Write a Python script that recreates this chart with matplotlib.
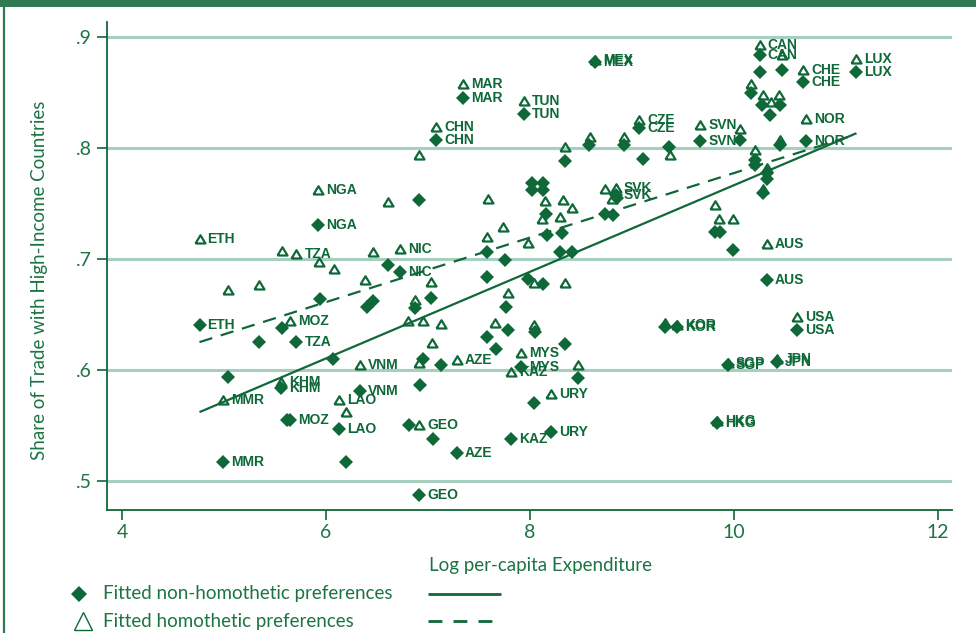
import matplotlib
matplotlib.use("Agg")
import matplotlib.pyplot as plt
from matplotlib.lines import Line2D
from matplotlib.patches import Rectangle

# ---------------- data ----------------
# labelled countries: log per-capita expenditure, fitted share (non-homothetic, homothetic)
countries = ["ETH", "MMR", "NGA", "MOZ", "TZA", "KHM", "LAO", "VNM", "GEO", "AZE",
             "KAZ", "URY", "MYS", "NIC", "CHN", "MAR", "TUN", "MEX", "CZE", "SVN",
             "SVK", "CAN", "CHE", "LUX", "NOR", "AUS", "KOR", "USA", "JPN", "SGP", "HKG"]
lab_x = [4.76, 4.99, 5.92, 5.65, 5.71, 5.56, 6.13, 6.33, 6.91, 7.28,
         7.81, 8.21, 7.91, 6.73, 7.08, 7.34, 7.94, 8.64, 9.07, 9.67,
         8.84, 10.25, 10.68, 11.20, 10.71, 10.32, 9.44, 10.62, 10.42, 9.94, 9.83]
lab_nonhom = [0.640, 0.517, 0.730, 0.555, 0.625, 0.584, 0.547, 0.581, 0.487, 0.525,
              0.538, 0.544, 0.603, 0.688, 0.807, 0.845, 0.830, 0.877, 0.818, 0.806,
              0.757, 0.883, 0.859, 0.868, 0.806, 0.681, 0.639, 0.636, 0.607, 0.604, 0.552]
lab_hom = [0.718, 0.573, 0.762, 0.644, 0.704, 0.589, 0.573, 0.604, 0.550, 0.609,
           0.598, 0.578, 0.615, 0.709, 0.819, 0.857, 0.842, 0.879, 0.825, 0.820,
           0.764, 0.892, 0.870, 0.880, 0.826, 0.713, 0.640, 0.648, 0.610, 0.606, 0.554]

# unlabelled points, non-homothetic (filled diamonds)
nonhom_x = [6.61, 5.94, 5.34, 5.57, 6.07, 5.04, 6.40, 6.46, 6.20, 7.03,
            6.87, 7.58, 7.76, 7.58, 7.67, 7.78, 8.05, 8.34, 6.95, 7.13,
            6.92, 8.47, 8.04, 6.81, 7.05, 7.75, 7.58, 8.17, 8.31, 8.29,
            8.41, 7.98, 8.13, 8.58, 8.92, 8.34, 9.11, 9.36, 8.02, 8.02,
            8.13, 8.13, 8.85, 8.74, 8.81, 8.16, 6.91, 10.06, 10.47, 10.25,
            10.17, 10.27, 10.45, 10.35, 10.21, 10.21, 10.45, 10.32, 10.32, 10.28,
            9.81, 9.86, 9.99, 9.32, 5.62]
nonhom_y = [0.694, 0.664, 0.625, 0.638, 0.610, 0.594, 0.657, 0.662, 0.517, 0.665,
            0.656, 0.684, 0.657, 0.630, 0.619, 0.636, 0.634, 0.623, 0.610, 0.604,
            0.586, 0.593, 0.570, 0.550, 0.538, 0.699, 0.706, 0.721, 0.723, 0.706,
            0.706, 0.682, 0.677, 0.802, 0.802, 0.788, 0.790, 0.801, 0.768, 0.762,
            0.768, 0.762, 0.755, 0.740, 0.739, 0.740, 0.753, 0.807, 0.870, 0.868,
            0.849, 0.838, 0.838, 0.829, 0.789, 0.784, 0.802, 0.777, 0.772, 0.759,
            0.724, 0.724, 0.708, 0.639, 0.555]

# unlabelled points, homothetic (open triangles)
hom_x = [5.57, 5.93, 6.08, 6.46, 5.04, 5.34, 6.38, 6.20, 7.03, 7.78,
         6.80, 6.95, 7.13, 7.66, 7.04, 8.04, 8.04, 8.34, 6.91, 8.47,
         6.87, 7.58, 7.98, 8.59, 8.92, 8.34, 9.37, 7.59, 8.15, 8.32,
         8.41, 8.12, 8.29, 7.74, 8.74, 8.80, 6.91, 6.61, 10.06, 10.47,
         10.17, 10.28, 10.36, 10.44, 10.21, 10.45, 10.28, 9.81, 9.85, 9.99,
         9.32, 10.32]
hom_y = [0.707, 0.697, 0.691, 0.706, 0.672, 0.676, 0.681, 0.562, 0.679, 0.669,
         0.644, 0.644, 0.641, 0.642, 0.624, 0.640, 0.678, 0.678, 0.606, 0.604,
         0.663, 0.720, 0.714, 0.810, 0.810, 0.801, 0.793, 0.754, 0.752, 0.753,
         0.746, 0.736, 0.738, 0.729, 0.763, 0.754, 0.793, 0.751, 0.817, 0.883,
         0.857, 0.847, 0.841, 0.847, 0.798, 0.807, 0.763, 0.748, 0.736, 0.736,
         0.642, 0.782]

# fitted lines (end points)
fit_x = [4.76, 11.20]
fit_nonhom = [0.562, 0.813]
fit_hom = [0.625, 0.812]

xticks = [4, 6, 8, 10, 12]
yticks = [0.5, 0.6, 0.7, 0.8, 0.9]
ytick_labels = [".5", ".6", ".7", ".8", ".9"]

# ---------------- style ----------------
GREEN = "#0f6838"
TEXT = "#1c7444"
GRID = "#a6cfc0"
FRAME = "#2f7a53"
AXFONT = "Lato"
LABFONT = "Liberation Sans"

W, H = 976, 633
fig = plt.figure(figsize=(W / 100, H / 100), dpi=100)
fig.patch.set_facecolor("white")

# frame decorations
fig.patches.append(Rectangle((0, 1 - 7 / H), 1, 7 / H, transform=fig.transFigure,
                             facecolor=FRAME, edgecolor="none"))
fig.lines.append(Line2D([4 / W, 4 / W], [0, 1 - 7 / H], transform=fig.transFigure,
                        color=FRAME, lw=1.6))

ax = fig.add_axes([107 / W, 1 - 510 / H, (952 - 107) / W, (510 - 22) / H])
ax.set_xlim(3.853, 12.137)
ax.set_ylim(0.4739, 0.9131)

for s in ["top", "right"]:
    ax.spines[s].set_visible(False)
for s in ["left", "bottom"]:
    ax.spines[s].set_color(GREEN)
    ax.spines[s].set_linewidth(1.3)

ax.set_yticks(yticks)
ax.set_yticklabels(ytick_labels)
ax.set_xticks(xticks)
ax.set_xticklabels([str(t) for t in xticks])
ax.tick_params(direction="out", length=7, width=1.2, color=GREEN,
               labelcolor=TEXT, labelsize=14)
ax.tick_params(axis="y", pad=4)
ax.tick_params(axis="x", pad=3)
for lbl in ax.get_xticklabels() + ax.get_yticklabels():
    lbl.set_fontfamily(AXFONT)

ax.yaxis.grid(True, color=GRID, lw=2.2)
ax.xaxis.grid(False)
ax.set_axisbelow(True)

# fitted lines
ax.plot(fit_x, fit_nonhom, color=GREEN, lw=1.6, solid_capstyle="butt", zorder=2)
ax.plot(fit_x, fit_hom, color=GREEN, lw=1.6, dashes=(6, 4), zorder=2)

# markers
flat_tri = [(-1.0, -0.8), (1.0, -0.8), (0.0, 0.85), (-1.0, -0.8)]
tri_kw = dict(linestyle="none", marker=flat_tri, markersize=7.2, markerfacecolor="none",
              markeredgecolor=GREEN, markeredgewidth=1.6, zorder=3)
dia_kw = dict(linestyle="none", marker="D", markersize=7.0, color=GREEN,
              markeredgewidth=0, zorder=4)
ax.plot(hom_x, hom_y, **tri_kw)
ax.plot(lab_x, lab_hom, **tri_kw)
ax.plot(nonhom_x, nonhom_y, **dia_kw)
ax.plot(lab_x, lab_nonhom, **dia_kw)

# labels
for c, x, yn, yh in zip(countries, lab_x, lab_nonhom, lab_hom):
    for y in (yh, yn):
        ax.annotate(c, (x, y), xytext=(5.8, 0), textcoords="offset points",
                    ha="left", va="center", fontsize=10, fontweight="bold",
                    family=LABFONT, color=GREEN, zorder=5)

# axis titles
ax.set_xlabel("Log per-capita Expenditure", fontsize=13.5, color=TEXT, family=AXFONT,
              va="center")
ax.xaxis.set_label_coords(0.5136, -0.113)
ax.set_ylabel("Share of Trade with High-Income Countries", fontsize=13.5, color=TEXT,
              family=AXFONT, va="center")
ax.yaxis.set_label_coords(-0.0800, 0.47)

# legend (manual layout)
def fx(px):
    return px / W

def fy(py):
    return 1 - py / H

fig.lines.append(Line2D([fx(79)], [fy(594)], transform=fig.transFigure, marker="D",
                        markersize=8.5, color=GREEN, markeredgewidth=0, linestyle="none"))
fig.lines.append(Line2D([fx(83)], [fy(621)], transform=fig.transFigure, marker="^",
                        markersize=13, markerfacecolor="none", markeredgecolor=GREEN,
                        markeredgewidth=1.0, linestyle="none"))
fig.text(fx(103), fy(594), "Fitted non-homothetic preferences", fontsize=13.5,
         color=TEXT, family=AXFONT, ha="left", va="center")
fig.text(fx(103), fy(621), "Fitted homothetic preferences", fontsize=13.5,
         color=TEXT, family=AXFONT, ha="left", va="center")
fig.lines.append(Line2D([fx(428), fx(501)], [fy(594), fy(594)], transform=fig.transFigure,
                        color=GREEN, lw=2.0, solid_capstyle="butt"))
fig.lines.append(Line2D([fx(428), fx(501)], [fy(621), fy(621)], transform=fig.transFigure,
                        color=GREEN, lw=2.0, dashes=(5, 4), dash_capstyle="butt"))

fig.savefig("out.png", dpi=100, facecolor="white")
